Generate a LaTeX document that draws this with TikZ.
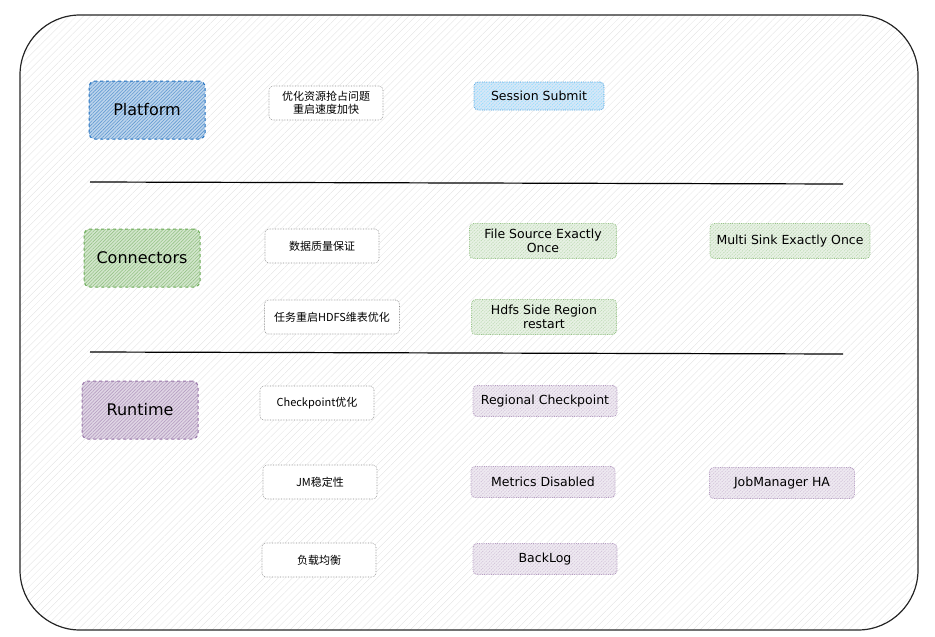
\documentclass[tikz,border=0pt]{standalone}
\usepackage{fontspec}
\setmainfont{DejaVu Sans}
\newfontfamily\cjk{Noto Sans CJK SC}
\usetikzlibrary{patterns.meta}

\definecolor{platblue}{HTML}{1F6FBF}
\definecolor{conngreen}{HTML}{6AAA55}
\definecolor{runpurple}{HTML}{9673A6}

\tikzset{
  hatch/.style={pattern={Lines[angle=45,distance=2.4pt,line width=0.6pt]}, pattern color=#1},
  catbox/.style={draw=#1, dashed, line width=1pt, rounded corners=6pt,
    preaction={fill=#1!30}, hatch=#1!70, minimum width=116pt, minimum height=58pt,
    font=\fontsize{16}{19}\selectfont},
  itembox/.style={draw=#1!70, densely dotted, line width=0.8pt, rounded corners=4pt,
    preaction={fill=#1!16}, hatch=#1!45, minimum width=144pt, minimum height=31pt,
    align=center, inner sep=2pt, font=\fontsize{12.5}{14}\selectfont},
  notebox/.style={draw=black!45, densely dotted, line width=0.6pt, rounded corners=4pt,
    fill=white, minimum width=114pt, minimum height=34pt, align=center,
    inner sep=2pt, font=\cjk\fontsize{11}{13.5}\selectfont},
}

\begin{document}
\begin{tikzpicture}[x=1pt,y=-1pt]
    \useasboundingbox (0,0) rectangle (935,637);

    % Outer frame
    \draw[line width=1.2pt, black!85, rounded corners=60pt,
          pattern={Lines[angle=45,distance=5pt,line width=0.3pt]}, pattern color=black!12]
        (20,15) rectangle (918,630);

    % Separators
    \draw[line width=1.2pt] (90,182) -- (843,184);
    \draw[line width=1.2pt] (90,352) -- (843,354);

    % Platform row
    \node[catbox=platblue] (platform) at (147,110) {Platform};
    \node[notebox] (platnote) at (326,103) {优化资源抢占问题\\重启速度加快};
    \node[itembox=cyan!70!blue, minimum width=130pt, minimum height=28pt] (session) at (539,96) {Session Submit};

    % Connectors row
    \node[catbox=conngreen] (connectors) at (142,258) {Connectors};
    \node[notebox] (connnote1) at (322,246) {数据质量保证};
    \node[notebox, minimum width=135pt] (connnote2) at (332,317) {任务重启HDFS维表优化};
    \node[itembox=conngreen, minimum width=147pt, minimum height=35pt] (filesrc) at (543,241) {File Source Exactly\\Once};
    \node[itembox=conngreen, minimum width=160pt, minimum height=35pt] (multisink) at (790,241) {Multi Sink Exactly Once};
    \node[itembox=conngreen, minimum width=145pt, minimum height=35pt] (hdfsside) at (544,317) {Hdfs Side Region\\restart};

    % Runtime row
    \node[catbox=runpurple] (runtime) at (140,410) {Runtime};
    \node[notebox] (runnote1) at (317,403) {Checkpoint优化};
    \node[notebox] (runnote2) at (320,482) {JM稳定性};
    \node[notebox] (runnote3) at (319,560) {负载均衡};
    \node[itembox=runpurple] (regional) at (545,401) {Regional Checkpoint};
    \node[itembox=runpurple] (metrics) at (543,482) {Metrics Disabled};
    \node[itembox=runpurple, minimum width=145pt] (jmha) at (782,483) {JobManager HA};
    \node[itembox=runpurple] (backlog) at (545,559) {BackLog};
\end{tikzpicture}
\end{document}
